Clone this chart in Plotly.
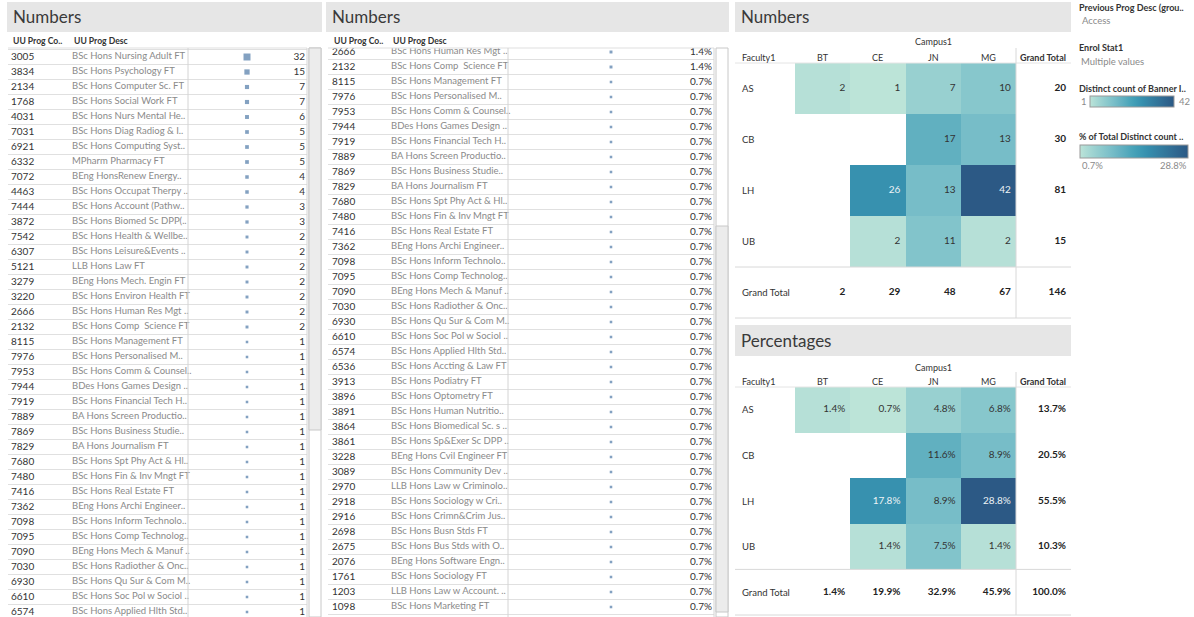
import plotly.graph_objects as go

W, H = 1194, 617

# ---------------- DATA ----------------
prog_codes = ["3005", "3834", "2134", "1768", "4031", "7031", "6921", "6332", "7072", "4463",
              "7444", "3872", "7542", "6307", "5121", "3279", "3220", "2666", "2132", "8115",
              "7976", "7953", "7944", "7919", "7889", "7869", "7829", "7680", "7480", "7416",
              "7362", "7098", "7095", "7090", "7030", "6930", "6610", "6574", "6536", "3913",
              "3896", "3891", "3864", "3861", "3228", "3089", "2970", "2918", "2916", "2698",
              "2675", "2076", "1761", "1203", "1098"]
prog_descs = ["BSc Hons Nursing Adult FT", "BSc Hons Psychology FT", "BSc Hons Computer Sc. FT",
              "BSc Hons Social Work FT", "BSc Hons Nurs Mental He..", "BSc Hons Diag Radiog & I..",
              "BSc Hons Computing Syst..", "MPharm Pharmacy FT", "BEng HonsRenew Energy..",
              "BSc Hons Occupat Therpy ..", "BSc Hons Account (Pathw..", "BSc Hons Biomed Sc DPP(..",
              "BSc Hons Health & Wellbe..", "BSc Hons Leisure&Events ..", "LLB Hons Law FT",
              "BEng Hons Mech. Engin FT", "BSc Hons Environ Health FT", "BSc Hons Human Res Mgt ..",
              "BSc Hons Comp  Science FT", "BSc Hons Management FT", "BSc Hons Personalised M..",
              "BSc Hons Comm & Counsel..", "BDes Hons Games Design ..", "BSc Hons Financial Tech H..",
              "BA Hons Screen Productio..", "BSc Hons Business Studie..", "BA Hons Journalism FT",
              "BSc Hons Spt Phy Act & Hl..", "BSc Hons Fin & Inv Mngt FT", "BSc Hons Real Estate FT",
              "BEng Hons Archi Engineer..", "BSc Hons Inform Technolo..", "BSc Hons Comp Technolog..",
              "BEng Hons Mech & Manuf ..", "BSc Hons Radiother & Onc..", "BSc Hons Qu Sur & Com M..",
              "BSc Hons Soc Pol w Sociol ..", "BSc Hons Applied Hlth Std..", "BSc Hons Accting & Law FT",
              "BSc Hons Podiatry FT", "BSc Hons Optometry FT", "BSc Hons Human Nutritio..",
              "BSc Hons Biomedical Sc. s ..", "BSc Hons Sp&Exer Sc DPP ..", "BEng Hons Cvil Engineer FT",
              "BSc Hons Community Dev ..", "LLB Hons Law w Criminolo..", "BSc Hons Sociology w Cri..",
              "BSc Hons Crimn&Crim Jus..", "BSc Hons Busn Stds FT", "BSc Hons Bus Stds with O..",
              "BEng Hons Software Engn..", "BSc Hons Sociology FT", "LLB Hons Law w Account. ..",
              "BSc Hons Marketing FT"]
prog_counts = [32, 15, 7, 7, 6, 5, 5, 5, 4, 4,
               3, 3, 2, 2, 2, 2, 2, 2, 2, 1,
               1, 1, 1, 1, 1, 1, 1, 1, 1, 1,
               1, 1, 1, 1, 1, 1, 1, 1, 1, 1,
               1, 1, 1, 1, 1, 1, 1, 1, 1, 1,
               1, 1, 1, 1, 1]

campuses = ["BT", "CE", "JN", "MG"]
faculties = ["AS", "CB", "LH", "UB"]
faculty_campus_counts = [[2, 1, 7, 10],
                         [None, None, 17, 13],
                         [None, 26, 13, 42],
                         [None, 2, 11, 2]]

left_first_row = 0
mid_first_row = 17
# --------------------------------------

total = sum(prog_counts)
n = len(prog_counts)

FONT = "Lato, 'Open Sans', sans-serif"
DARK = "#333333"
GREY = "#8a8a8a"
LINE = "#e0e0e0"
VLINE = "#d4d4d4"
MARK = "#4e79a7"

bt = ["#bce4d8", "#aedcd5", "#a1d5d2", "#95cecf", "#89c8cc", "#7ec1ca", "#72bac6", "#66b2c2",
      "#59acbe", "#4ba5ba", "#419eb6", "#3b96b2", "#358ead", "#3586a7", "#347ea1", "#32779b",
      "#316f96", "#2f6790", "#2d608a", "#2c5985"]
colorscale = [[i / (len(bt) - 1), c] for i, c in enumerate(bt)]


def px(x):
    return x / W


def py(y):
    return 1 - y / H


fig = go.Figure()
shapes = []
annots = []


def band(x0, x1, y0, y1, title):
    shapes.append(dict(type="rect", xref="paper", yref="paper", x0=px(x0), x1=px(x1),
                       y0=py(y1), y1=py(y0), fillcolor="#e6e6e6", line=dict(width=0), layer="below"))
    annots.append(dict(text=title, xref="paper", yref="paper", x=px(x0 + 4), y=py((y0 + y1) / 2),
                       xanchor="left", yanchor="middle", showarrow=False,
                       font=dict(size=17, color="#3a3a3a", family=FONT)))


def txt(text, x, y, anchor="left", size=9.5, color=DARK, weight="normal"):
    annots.append(dict(text=text, xref="paper", yref="paper", x=px(x), y=py(y),
                       xanchor=anchor, yanchor="middle", showarrow=False,
                       font=dict(size=size, color=color, family=FONT, weight=weight)))


def msize(v):
    return 1.6 + 0.95 * v ** 0.5


# ---------------- program tables ----------------
def prog_table(ax, x0, x1, first, row0_y, code_x, desc_x, sep_x, mark_x, val_x, right_x,
               scroll_x0, scroll_x1, thumb_y0, thumb_y1, values, fmt):
    xa = "xaxis" if ax == 1 else f"xaxis{ax}"
    ya = "yaxis" if ax == 1 else f"yaxis{ax}"
    xr = "x" if ax == 1 else f"x{ax}"
    yr = "y" if ax == 1 else f"y{ax}"
    top, bot = 48, 617
    ymin = first + (top - row0_y) / 15.0
    ymax = first + (bot - row0_y) / 15.0
    idx = [i for i in range(n) if ymin - 0.5 < i < ymax + 0.5]
    codes = [prog_codes[i] for i in idx]
    descs = [prog_descs[i] for i in idx]
    cnts = [prog_counts[i] for i in idx]
    vals = [values[i] for i in idx]
    m = len(idx)
    fig.add_trace(go.Scatter(x=[code_x] * m, y=idx, text=codes, mode="text",
                             textposition="middle right", xaxis=xr, yaxis=yr,
                             textfont=dict(size=10, color=DARK, family=FONT),
                             cliponaxis=True, hoverinfo="skip", showlegend=False))
    fig.add_trace(go.Scatter(x=[desc_x] * m, y=idx, text=descs, mode="text",
                             textposition="middle right", xaxis=xr, yaxis=yr,
                             textfont=dict(size=9.5, color=GREY, family=FONT),
                             cliponaxis=True, hoverinfo="skip", showlegend=False))
    fig.add_trace(go.Scatter(x=[mark_x] * m, y=idx, mode="markers", xaxis=xr, yaxis=yr,
                             marker=dict(symbol="square", color=MARK,
                                         size=[msize(v) for v in cnts], line=dict(width=0)),
                             cliponaxis=True, hoverinfo="skip", showlegend=False))
    fig.add_trace(go.Scatter(x=[val_x] * m, y=idx, text=[fmt(v) for v in vals], mode="text",
                             textposition="middle left", xaxis=xr, yaxis=yr,
                             textfont=dict(size=10, color=DARK, family=FONT),
                             cliponaxis=True, hoverinfo="skip", showlegend=False))
    fig.update_layout(**{
        xa: dict(domain=[px(x0), px(x1)], range=[x0, x1], visible=False, fixedrange=True),
        ya: dict(domain=[py(bot), py(top)], range=[ymax, ymin], visible=False, fixedrange=True),
    })
    lx0 = x0 + 2 if ax != 1 else 8
    for i in range(n + 1):
        yb = i - 0.5
        if ymin <= yb <= ymax:
            shapes.append(dict(type="line", xref=xr, yref=yr, x0=lx0,
                               x1=right_x, y0=yb, y1=yb, line=dict(color=LINE, width=1.2)))
    shapes.append(dict(type="line", xref="paper", yref="paper", x0=px(lx0),
                       x1=px(right_x), y0=py(top), y1=py(top), line=dict(color=LINE, width=1.2)))
    for xv in (sep_x, right_x):
        shapes.append(dict(type="line", xref="paper", yref="paper", x0=px(xv), x1=px(xv),
                           y0=py(bot), y1=py(top), line=dict(color=VLINE, width=1)))
    shapes.append(dict(type="rect", xref="paper", yref="paper", x0=px(scroll_x0), x1=px(scroll_x1),
                       y0=py(bot), y1=py(top), fillcolor="white", line=dict(color="#c8c8c8", width=1)))
    shapes.append(dict(type="rect", xref="paper", yref="paper", x0=px(scroll_x0), x1=px(scroll_x1),
                       y0=py(thumb_y1), y1=py(thumb_y0), fillcolor="#ececec",
                       line=dict(color="#c8c8c8", width=1)))
    txt("UU Prog Co..", code_x, 41, size=8.6, weight="bold")
    txt("UU Prog Desc", desc_x, 41, size=8.6, weight="bold")


band(7, 322, 2, 32, "Numbers")
prog_table(1, 0, 322, left_first_row, 57, 11, 72, 188, 247, 305, 307, 309, 321, 48, 430,
           prog_counts, lambda v: f"{v}")

band(326, 729, 2, 32, "Numbers")
prog_table(2, 326, 730, mid_first_row, 52, 332, 391, 508, 611, 712, 714, 716, 728, 226, 612,
           [v / total * 100 for v in prog_counts], lambda v: f"{v:.1f}%")

# ---------------- cross tabs ----------------
row_tot = [sum(v for v in r if v is not None) for r in faculty_campus_counts]
col_tot = [sum(r[j] for r in faculty_campus_counts if r[j] is not None) for j in range(len(campuses))]
grand = sum(row_tot)


def crosstab(ax, top, bot, hdr_y, camp_y, vline_top, title_y0, title_y1, title, conv, fmt,
             cb_center, cb_len, cb_top, cb_thick):
    xa, ya, xr, yr = f"xaxis{ax}", f"yaxis{ax}", f"x{ax}", f"y{ax}"
    z = [[None if v is None else conv(v) for v in r] for r in faculty_campus_counts]
    flat = [v for r in z for v in r if v is not None]
    band(735, 1071, title_y0, title_y1, title)
    fig.add_trace(go.Heatmap(
        x=list(range(len(campuses))), y=list(range(len(faculties))), z=z,
        colorscale=colorscale, zmin=min(flat), zmax=max(flat), xaxis=xr, yaxis=yr,
        hoverinfo="skip", xgap=0, ygap=0,
        colorbar=dict(orientation="h", x=px(cb_center), xanchor="center", y=py(cb_top),
                      yanchor="top", len=cb_len, lenmode="pixels", thickness=cb_thick,
                      thicknessmode="pixels", outlinewidth=1, outlinecolor="#9a9a9a",
                      showticklabels=False, ticks="", xpad=0, ypad=0)))
    tx, ty, tt, tc = [], [], [], []
    for i, r in enumerate(z):
        for j, v in enumerate(r):
            if v is not None:
                tx.append(j + 0.41)
                ty.append(i)
                tt.append(fmt(v))
                tc.append("#eef3f6" if v > (max(flat) * 0.55) else DARK)
    fig.add_trace(go.Scatter(x=tx, y=ty, text=tt, mode="text", textposition="middle left",
                             textfont=dict(size=10, color=tc, family=FONT), xaxis=xr, yaxis=yr,
                             hoverinfo="skip", showlegend=False, cliponaxis=False))
    gx = [len(campuses) + 0.41] * len(faculties) + [j + 0.41 for j in range(len(campuses))] + [len(campuses) + 0.41]
    gy = list(range(len(faculties))) + [len(faculties)] * len(campuses) + [len(faculties)]
    gt = [fmt(conv(v)) for v in row_tot] + [fmt(conv(v)) for v in col_tot] + [fmt(conv(grand))]
    fig.add_trace(go.Scatter(x=gx, y=gy, text=gt, mode="text", textposition="middle left",
                             textfont=dict(size=10, color="#222222", family=FONT, weight="bold"),
                             xaxis=xr, yaxis=yr, hoverinfo="skip", showlegend=False, cliponaxis=False))
    fig.update_layout(**{
        xa: dict(domain=[px(795), px(1071)], range=[-0.5, len(campuses) + 0.5], visible=False,
                 fixedrange=True),
        ya: dict(domain=[py(bot), py(top)], range=[len(faculties) + 0.5, -0.5], visible=False,
                 fixedrange=True),
    })
    for j, c in enumerate(campuses + ["Grand Total"]):
        annots.append(dict(text=c, xref=xr, yref="paper", x=j, y=py(hdr_y), xanchor="center",
                           yanchor="middle", showarrow=False,
                           font=dict(size=9, color=DARK, family=FONT,
                                     weight="bold" if j == len(campuses) else "normal")))
    annots.append(dict(text="Campus1", xref="paper", yref="paper", x=px(933), y=py(camp_y),
                       xanchor="center", yanchor="middle", showarrow=False,
                       font=dict(size=9, color=DARK, family=FONT)))
    txt("Faculty1", 740, hdr_y, size=9)
    for i, f in enumerate(faculties + ["Grand Total"]):
        annots.append(dict(text=f, xref="paper", yref=yr, x=px(740), y=i, xanchor="left",
                           yanchor="middle", showarrow=False,
                           font=dict(size=9.5, color=DARK, family=FONT)))
    rowh = (bot - top) / (len(faculties) + 1)
    for yv, col in ((top, "#e4e4e4"), (top + rowh * len(faculties), "#d8d8d8"), (bot, "#d8d8d8")):
        shapes.append(dict(type="line", xref="paper", yref="paper", x0=px(735), x1=px(1071),
                           y0=py(yv), y1=py(yv), line=dict(color=col, width=1)))
    shapes.append(dict(type="line", xref="paper", yref="paper", x0=px(1016), x1=px(1016),
                       y0=py(bot), y1=py(vline_top), line=dict(color="#d8d8d8", width=1)))


crosstab(3, 63, 318, 57, 42, 48, 2, 32, "Numbers", lambda v: v, lambda v: f"{v}",
         1132, 84, 96, 11)
crosstab(4, 387, 615, 381, 367, 372, 325, 356, "Percentages", lambda v: v / grand * 100,
         lambda v: f"{v:.1f}%", 1134, 108, 145, 13)

# ---------------- legend / filter panel ----------------
cmin = min(v for r in faculty_campus_counts for v in r if v is not None)
cmax = max(v for r in faculty_campus_counts for v in r if v is not None)
txt("Previous Prog Desc (grou..", 1077, 7, size=9, weight="bold")
txt("Access", 1080, 20, color=GREY)
txt("Enrol Stat1", 1077, 48, size=9, weight="bold")
txt("Multiple values", 1079, 61, color=GREY)
txt("Distinct count of Banner I..", 1077, 89, size=9, weight="bold")
txt(str(cmin), 1079, 102, color=GREY)
txt(str(cmax), 1177, 102, color=GREY)
txt("% of Total Distinct count ..", 1077, 137, size=9, weight="bold")
txt(f"{cmin / grand * 100:.1f}%", 1080, 166, color=GREY)
txt(f"{cmax / grand * 100:.1f}%", 1189, 166, anchor="right", color=GREY)

fig.update_layout(width=W, height=H, margin=dict(l=0, r=0, t=0, b=0),
                  paper_bgcolor="white", plot_bgcolor="rgba(0,0,0,0)",
                  font=dict(family=FONT, color=DARK), showlegend=False,
                  shapes=shapes, annotations=annots)

fig.write_html("out.html", config={"displayModeBar": False},
               post_script="document.body.style.margin='0px';document.body.style.overflow='hidden';")
